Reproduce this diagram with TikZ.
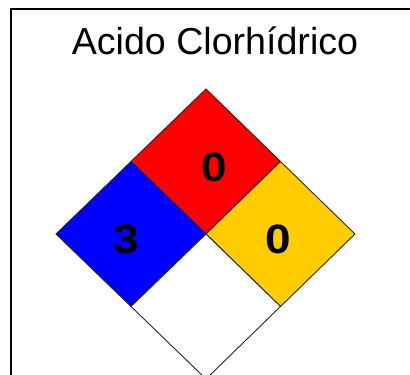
\documentclass[tikz,border=0pt]{standalone}
\usepackage{fontspec}
\setmainfont{Liberation Sans}
\usepackage{xcolor}
\usepackage{graphicx}
\usetikzlibrary{positioning,calc}
\definecolor{nfpared}{RGB}{255,0,0}
\definecolor{nfpablue}{RGB}{0,0,255}
\definecolor{nfpayellow}{RGB}{255,204,0}
\newcommand{\widedigit}[1]{\scalebox{1.12}[1]{#1}}
\begin{document}
\begin{tikzpicture}[
  x=1pt, y=1pt,
  cell/.style={draw=black!85, line width=0.9pt, line join=miter},
  digit/.style={inner sep=0pt, font=\fontsize{41}{44}\selectfont\bfseries},
  title/.style={inner sep=0pt, anchor=base, font=\fontsize{37.6}{40}\selectfont}
]
\useasboundingbox (0,0) rectangle (410,375);
% frame
\draw[line width=2pt] (11,-5) -- (11,366) -- (420,366);
\node[title] (name) at (215,320) {Acido Clorhídrico};
% diamond corners
\coordinate (top) at (206,286);
\coordinate (left) at (56,141);
\coordinate (right) at (355,141);
\coordinate (mid) at (206,141);
\coordinate (bottom) at (206,-4);
\coordinate (tl) at ($(top)!0.5!(left)$);
\coordinate (tr) at ($(top)!0.5!(right)$);
\coordinate (bl) at ($(bottom)!0.5!(left)$);
\coordinate (br) at ($(bottom)!0.5!(right)$);
\filldraw[cell, fill=nfpared] (top) -- (tr) -- (mid) -- (tl) -- cycle;
\filldraw[cell, fill=nfpablue] (tl) -- (mid) -- (bl) -- (left) -- cycle;
\filldraw[cell, fill=nfpayellow] (tr) -- (right) -- (br) -- (mid) -- cycle;
\filldraw[cell, fill=white] (mid) -- (br) -- (bottom) -- (bl) -- cycle;
% ratings
\node[digit] (fire) at (214,208) {\widedigit{0}};
\node[digit] (health) at (126,135.7) {\widedigit{3}};
\node[digit] (react) at (278.3,135.7) {\widedigit{0}};
\end{tikzpicture}
\end{document}
